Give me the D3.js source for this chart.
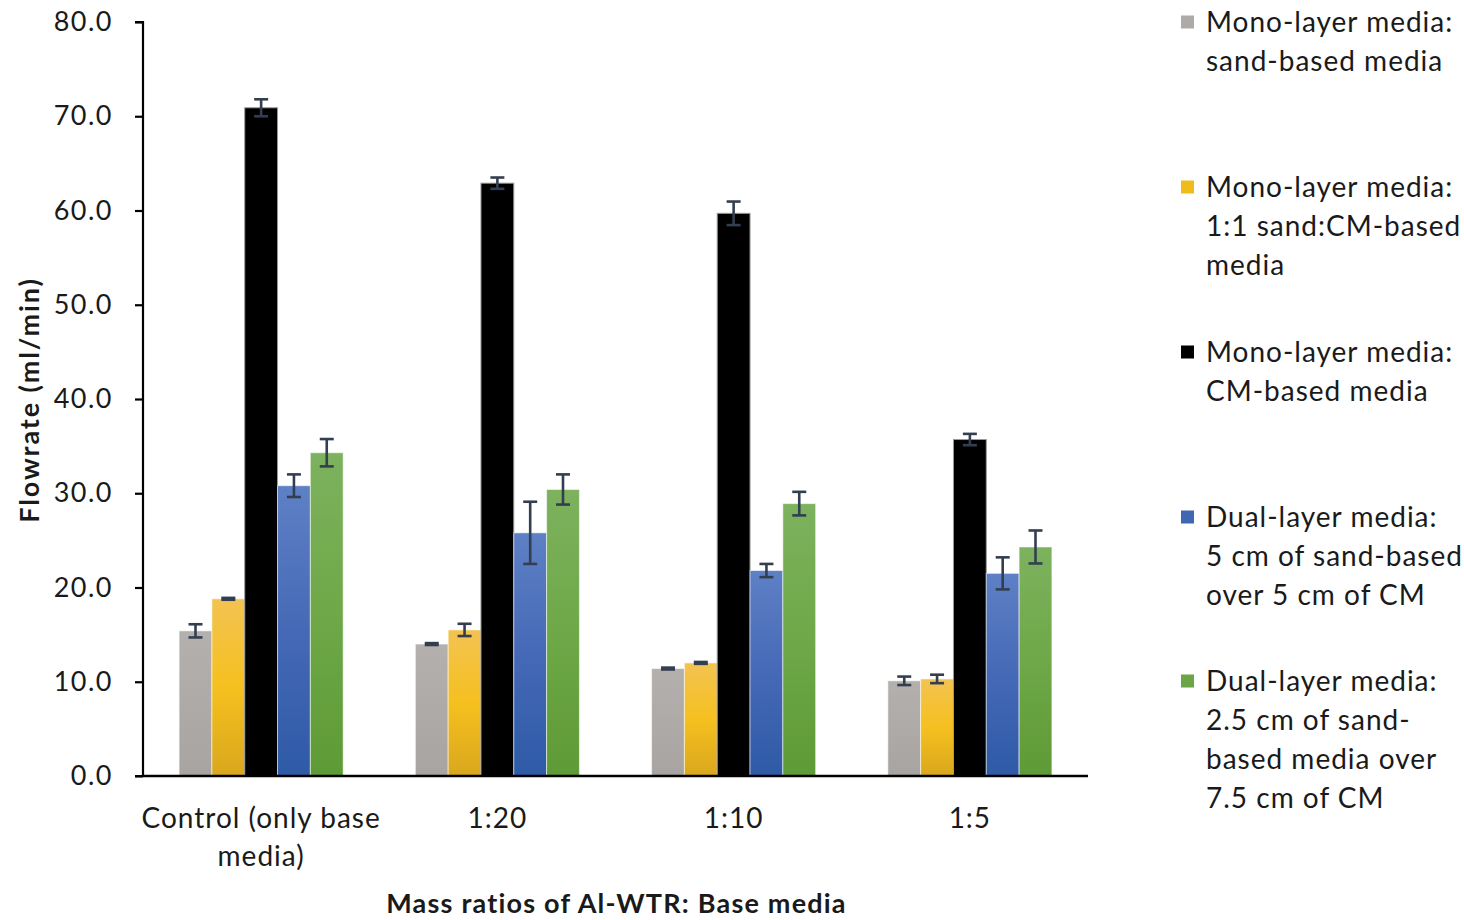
<!DOCTYPE html>
<html>
<head>
<meta charset="utf-8">
<script src="https://cdn.jsdelivr.net/npm/d3@7"></script>
<style>
  html, body { margin: 0; padding: 0; background: #fff; }
  svg { display: block; }
  text { font-family: Lato, "Open Sans", sans-serif; fill: #1a1a1a; }
</style>
</head>
<body>
<svg id="chart" width="1464" height="920"></svg>
<script>
// Groups along the x axis (each label split into its drawn lines)
const categories = ["Control (only base media)", "1:20", "1:10", "1:5"];
const categoryLines = [["Control (only base", "media)"], ["1:20"], ["1:10"], ["1:5"]];

// Series (filter media configurations)
const seriesKeys = ["sand", "mix", "cm", "dual5", "dual25"];
const seriesLabels = [
  ["Mono-layer media:", "sand-based media"],
  ["Mono-layer media:", "1:1 sand:CM-based", "media"],
  ["Mono-layer media:", "CM-based media"],
  ["Dual-layer media:", "5 cm of sand-based", "over 5 cm of CM"],
  ["Dual-layer media:", "2.5 cm of sand-", "based media over", "7.5 cm of CM"]
];

// Mean flowrate (ml/min) per group, and standard error
const sandValues   = [15.4, 14.0, 11.4, 10.1];
const sandErrors   = [0.7, 0.1, 0.1, 0.45];
const mixValues    = [18.8, 15.5, 12.0, 10.3];
const mixErrors    = [0.1, 0.65, 0.1, 0.45];
const cmValues     = [70.9, 62.9, 59.7, 35.7];
const cmErrors     = [0.9, 0.6, 1.25, 0.6];
const dual5Values  = [30.8, 25.8, 21.8, 21.5];
const dual5Errors  = [1.2, 3.3, 0.7, 1.7];
const dual25Values = [34.3, 30.4, 28.9, 24.3];
const dual25Errors = [1.45, 1.6, 1.25, 1.75];

const yTicks = [0, 10, 20, 30, 40, 50, 60, 70, 80];

const valuesBySeries = [sandValues, mixValues, cmValues, dual5Values, dual25Values];
const errorsBySeries = [sandErrors, mixErrors, cmErrors, dual5Errors, dual25Errors];

const svg = d3.select("#chart");

const plot = { left: 143, right: 1088, top: 22, bottom: 776 };

const x0 = d3.scaleBand().domain(categories).range([plot.left, plot.right]).padding(0);
const x1 = d3.scaleBand().domain(seriesKeys).range([0, x0.bandwidth()])
  .paddingInner(0).paddingOuter(1.1);
const y = d3.scaleLinear().domain([0, 80]).range([plot.bottom, plot.top]);

// Vertical gradients for the bar fills
const defs = svg.append("defs");
const gradients = {
  sand:   ["#b4b0ae", "#aeaaa8", "#a8a4a2"],
  mix:    ["#f3c352", "#f5c01f", "#d9a71d"],
  cm:     ["#000000", "#000000", "#000000"],
  dual5:  ["#5e80c5", "#4569b6", "#2e5aa6"],
  dual25: ["#7db25e", "#6ea848", "#5e9a35"]
};
seriesKeys.forEach(k => {
  const g = defs.append("linearGradient").attr("id", "grad-" + k)
    .attr("x1", 0).attr("y1", 0).attr("x2", 0).attr("y2", 1);
  g.append("stop").attr("offset", "0%").attr("stop-color", gradients[k][0]);
  g.append("stop").attr("offset", "50%").attr("stop-color", gradients[k][1]);
  g.append("stop").attr("offset", "100%").attr("stop-color", gradients[k][2]);
});
const legendColors = {
  sand: "#aeaaa8", mix: "#f0bc1c", cm: "#000000", dual5: "#3f67b3", dual25: "#6aa645"
};

// Bars
const rows = [];
categories.forEach((c, ci) => {
  seriesKeys.forEach((k, si) => {
    rows.push({ cat: c, key: k, value: valuesBySeries[si][ci], err: errorsBySeries[si][ci] });
  });
});

svg.append("g").selectAll("rect").data(rows).join("rect")
  .attr("x", d => x0(d.cat) + x1(d.key))
  .attr("y", d => y(d.value))
  .attr("width", x1.bandwidth())
  .attr("height", d => y(0) - y(d.value))
  .attr("fill", d => `url(#grad-${d.key})`)
  .attr("stroke", d => d.key === "cm" ? "#9a9a9a" : "rgba(255,255,255,0.55)")
  .attr("stroke-width", 1);

// Error bars
const errG = svg.append("g").attr("stroke", "#333f50").attr("stroke-width", 2.6).attr("fill", "none");
rows.forEach(d => {
  const cx = x0(d.cat) + x1(d.key) + x1.bandwidth() / 2;
  const yHi = y(d.value + d.err), yLo = y(d.value - d.err);
  errG.append("line").attr("x1", cx).attr("x2", cx).attr("y1", yHi).attr("y2", yLo);
  errG.append("line").attr("x1", cx - 7).attr("x2", cx + 7).attr("y1", yHi).attr("y2", yHi);
  errG.append("line").attr("x1", cx - 7).attr("x2", cx + 7).attr("y1", yLo).attr("y2", yLo);
});

// Y axis
const yAxis = d3.axisLeft(y).tickValues(yTicks).tickFormat(d3.format(".1f"))
  .tickSize(8).tickPadding(22);
const yAxisG = svg.append("g").attr("transform", `translate(${plot.left},0)`).call(yAxis);
yAxisG.select(".domain").attr("stroke", "#000").attr("stroke-width", 2.2)
  .attr("d", `M-8,${plot.top}H0V${plot.bottom}H-8`);
yAxisG.selectAll(".tick line").attr("stroke", "#000").attr("stroke-width", 2.2);
yAxisG.selectAll(".tick text").attr("font-size", 27).attr("font-family", "Lato, sans-serif")
  .attr("letter-spacing", 1.5).attr("fill", "#262626");

// X axis
const xAxisG = svg.append("g").attr("transform", `translate(0,${plot.bottom})`)
  .call(d3.axisBottom(x0).tickSize(0).tickFormat(""));
xAxisG.select(".domain").attr("stroke", "#000").attr("stroke-width", 2.4)
  .attr("d", `M${plot.left},0H${plot.right}`);

// Category labels
categories.forEach((c, ci) => {
  const t = svg.append("text")
    .attr("x", x0(c) + x0.bandwidth() / 2)
    .attr("y", 828)
    .attr("text-anchor", "middle")
    .attr("font-size", 28)
    .attr("letter-spacing", 1);
  categoryLines[ci].forEach((line, li) => {
    t.append("tspan").attr("x", x0(c) + x0.bandwidth() / 2).attr("dy", li === 0 ? 0 : 38).text(line);
  });
});

// Axis titles
svg.append("text")
  .attr("x", (plot.left + plot.right) / 2 + 1)
  .attr("y", 913)
  .attr("text-anchor", "middle")
  .attr("font-size", 27).attr("font-weight", "bold")
  .attr("letter-spacing", 1.2)
  .text("Mass ratios of Al-WTR: Base media");

svg.append("text")
  .attr("transform", `translate(39,${(plot.top + plot.bottom) / 2 + 1}) rotate(-90)`)
  .attr("text-anchor", "middle")
  .attr("font-size", 27).attr("font-weight", "bold")
  .attr("letter-spacing", 1.9)
  .text("Flowrate (ml/min)");

// Legend
const legendTops = [22, 187, 352, 517, 681];
const legendG = svg.append("g");
seriesKeys.forEach((k, i) => {
  const cy = legendTops[i];
  legendG.append("rect").attr("x", 1181).attr("y", cy - 6.5).attr("width", 13).attr("height", 13)
    .attr("fill", legendColors[k]);
  const t = legendG.append("text").attr("x", 1206).attr("y", cy + 9.5)
    .attr("font-size", 28).attr("letter-spacing", 1);
  seriesLabels[i].forEach((line, li) => {
    t.append("tspan").attr("x", 1206).attr("dy", li === 0 ? 0 : 39).text(line);
  });
});
</script>
</body>
</html>
